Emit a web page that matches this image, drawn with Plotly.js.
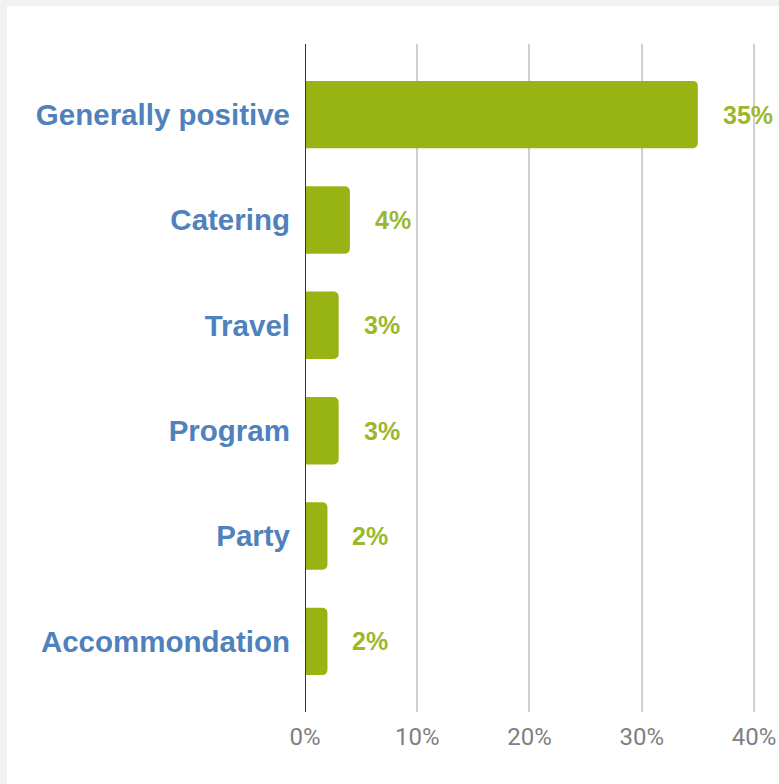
<!DOCTYPE html>
<html>
<head>
<meta charset="utf-8">
<script src="https://cdn.plot.ly/plotly-3.0.1.min.js"></script>
<style>
  html, body { margin: 0; padding: 0; background: #f1f1f1; width: 779px; height: 784px; overflow: hidden; }
  #chart { position: absolute; left: 7px; top: 6px; width: 772px; height: 778px; background: #ffffff; }
</style>
</head>
<body>
<div id="chart"></div>
<script>
const categories = ["Generally positive", "Catering", "Travel", "Program", "Party", "Accommondation"];
const values = [35, 4, 3, 3, 2, 2];
const valueLabels = ["35%", "4%", "3%", "3%", "2%", "2%"];
const xTickVals = [0, 10, 20, 30, 40];
const xTickText = ["0%", "10%", "20%", "30%", "40%"];

const barColor = "#97b414";
const labelGreen = "#9bb82b";

const trace = {
  type: "bar",
  orientation: "h",
  y: categories,
  x: values,
  width: 0.64,
  marker: { color: barColor, cornerradius: 5 },
  hoverinfo: "none"
};

const annotations = categories.map((c, i) => ({
  x: values[i], y: c, xref: "x", yref: "y",
  text: valueLabels[i], showarrow: false,
  xanchor: "left", xshift: 23,
  font: { family: "Liberation Sans, Arial, sans-serif", size: 25, color: labelGreen, weight: "bold" }
}));

const layout = {
  width: 772, height: 778,
  margin: { l: 298, r: 0, t: 38, b: 72 },
  paper_bgcolor: "#ffffff",
  plot_bgcolor: "#ffffff",
  showlegend: false,
  xaxis: {
    range: [0, 42.23],
    tickvals: xTickVals,
    ticktext: xTickText,
    showgrid: true,
    gridcolor: "#cfcfcf",
    gridwidth: 2,
    zeroline: false,
    showline: false,
    ticks: "",
    ticklabelstandoff: 8,
    tickfont: { family: "Roboto, sans-serif", size: 24, color: "#808080" },
    fixedrange: true
  },
  yaxis: {
    type: "category",
    categoryorder: "array",
    categoryarray: categories,
    range: [5.67, -0.67],
    showgrid: false,
    zeroline: false,
    showline: false,
    ticks: "",
    ticklabelstandoff: 14,
    tickfont: { family: "Liberation Sans, Arial, sans-serif", size: 29.5, color: "#4f81bd", weight: "bold" },
    fixedrange: true
  },
  shapes: [{
    type: "line", xref: "x", yref: "paper",
    x0: 0, x1: 0, y0: 0, y1: 1,
    line: { color: "#333333", width: 2 },
    layer: "above"
  }],
  annotations: annotations
};

Plotly.newPlot("chart", [trace], layout, { displayModeBar: false, staticPlot: true });
</script>
</body>
</html>
